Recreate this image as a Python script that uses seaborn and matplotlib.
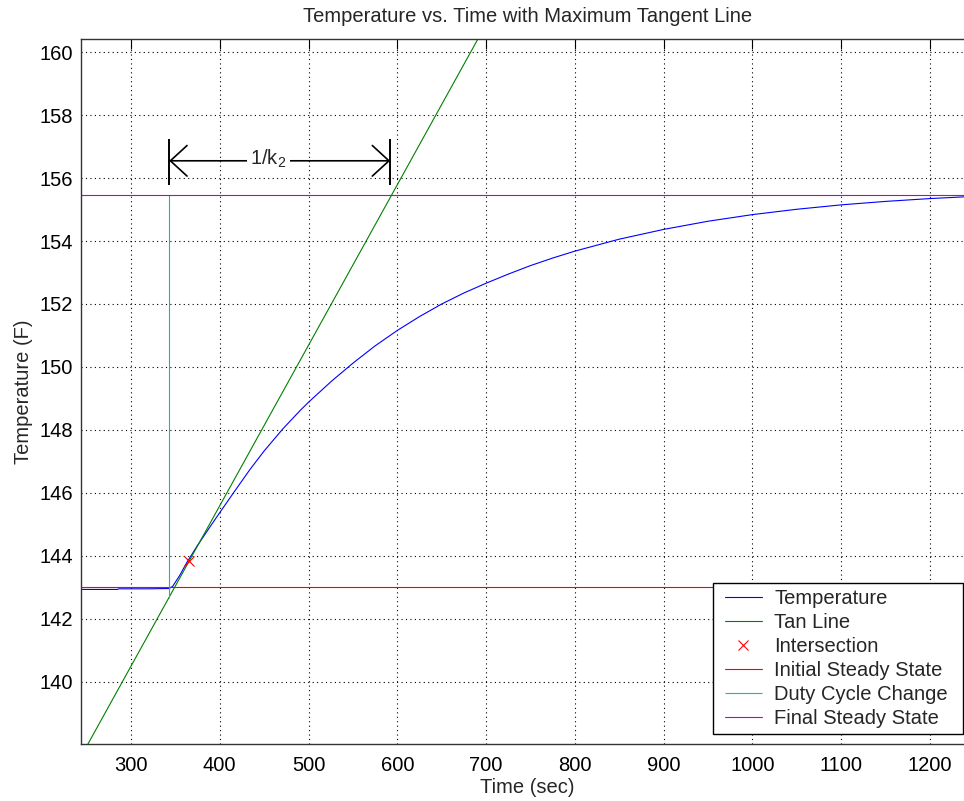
import matplotlib
matplotlib.use("Agg")
import matplotlib.pyplot as plt
import seaborn as sns
import pandas as pd
from matplotlib.lines import Line2D
from matplotlib.collections import LineCollection
from matplotlib.legend_handler import HandlerLine2D, HandlerLineCollection

# Measured temperature response
time_s = [243.7, 285, 286, 320, 343, 347, 355, 363, 375, 390, 400, 415, 434, 450,
          471, 490, 500, 526, 550, 575, 600, 625, 650, 675, 700, 725, 750, 775,
          800, 850, 900, 950, 1000, 1050, 1100, 1150, 1200, 1250]
temp_f = [142.93, 142.93, 142.95, 142.95, 142.96, 143.03, 143.38, 143.79, 144.33,
          144.96, 145.37, 145.98, 146.74, 147.33, 148.03, 148.60, 148.88, 149.55,
          150.12, 150.67, 151.16, 151.60, 152.00, 152.35, 152.66, 152.95, 153.22,
          153.46, 153.68, 154.06, 154.37, 154.63, 154.84, 155.01, 155.15, 155.26,
          155.35, 155.42]

# Maximum-slope tangent line
tan_time = [240, 700]
tan_temp = [137.43, 160.89]

# Point of maximum slope
inter_time = [365.7]
inter_temp = [143.84]

# Steady states and step time
initial_ss = 143.0
final_ss = 155.45
step_time = 343.0
step_span = [142.65, 155.45]

# 1/k2 span (step time to tangent reaching final steady state)
span_start = 343.0
span_end = 592.0
span_level = 156.55
bar_span = [155.78, 157.23]

x_ticks = [300, 400, 500, 600, 700, 800, 900, 1000, 1100, 1200]
y_ticks = [140, 142, 144, 146, 148, 150, 152, 154, 156, 158, 160]
x_lim = (243.7, 1250)
y_lim = (138.02, 160.43)

sns.set_style("white")
plt.rcParams['font.family'] = ['Liberation Sans', 'DejaVu Sans']
plt.rcParams['mathtext.fontset'] = 'custom'
plt.rcParams['mathtext.rm'] = 'Liberation Sans'
plt.rcParams['mathtext.it'] = 'Liberation Sans'

FS = 14.5
fig = plt.figure(figsize=(9.64, 8.01), dpi=100)
ax = fig.add_axes([0.0840, 0.0712, 0.9268, 0.8805])

df_temp = pd.DataFrame({"t": time_s, "T": temp_f})
df_tan = pd.DataFrame({"t": tan_time, "T": tan_temp})

lw = 0.8
sns.lineplot(data=df_temp, x="t", y="T", ax=ax, color="#0000FF", lw=lw,
             label="Temperature", sort=False)
sns.lineplot(data=df_tan, x="t", y="T", ax=ax, color="#008000", lw=lw,
             label="Tan Line", sort=False)
ax.plot(inter_time, inter_temp, ls="none", marker="x", color="#FF0000",
        ms=7, mew=0.8, label="Intersection")
ax.axhline(initial_ss, color="#FF0000", lw=lw, label="Initial Steady State")
ax.vlines([step_time], step_span[0], step_span[1], color="#00BFBF", lw=lw,
          label="Duty Cycle Change")
ax.axhline(final_ss, color="#BF00BF", lw=lw, label="Final Steady State")

# 1/k2 dimension marker
ax.vlines([span_start, span_end], bar_span[0], bar_span[1], color="black", lw=1.4)
ax.annotate("", xy=(span_start, span_level), xytext=(span_end, span_level),
            arrowprops=dict(arrowstyle="<->,head_length=0.6,head_width=0.55",
                            color="black", lw=1.2, mutation_scale=20,
                            shrinkA=0, shrinkB=0))
ax.text(455, span_level + 0.05, r"1/k$_2$", fontsize=FS, ha="center", va="center",
        bbox=dict(facecolor="white", edgecolor="none", pad=2.5))

ax.set_xlim(*x_lim)
ax.set_ylim(*y_lim)
ax.set_xticks(x_ticks)
ax.set_yticks(y_ticks)
ax.grid(True, color="black", linestyle=(0, (1, 3)), linewidth=0.8)
ax.tick_params(direction="in", length=7, width=0.8, top=True, right=True,
               labelsize=FS, colors="black")
ax.tick_params(axis="y", pad=6)
ax.tick_params(axis="x", pad=9)
for s in ax.spines.values():
    s.set_color("#333333")
    s.set_linewidth(1.0)

ax.set_title("Temperature vs. Time with Maximum Tangent Line", fontsize=FS, pad=12)
ax.set_xlabel("Time (sec)", fontsize=FS, labelpad=2)
ax.set_ylabel("Temperature (F)", fontsize=FS, labelpad=4)

xpad = 0.3
leg = ax.legend(loc="lower left", bbox_to_anchor=(0.7071, 0.0142, 0.2805, 0.2113),
                mode="expand", fontsize=FS, frameon=True, fancybox=False,
                framealpha=1, edgecolor="black", handlelength=1.85 + xpad,
                handletextpad=0.6, labelspacing=0.25, borderpad=0.3,
                borderaxespad=0.0,
                handler_map={Line2D: HandlerLine2D(xpad=xpad),
                             LineCollection: HandlerLineCollection(xpad=xpad)})
leg.get_frame().set_linewidth(1.0)

fig.savefig("out.png", dpi=100)
